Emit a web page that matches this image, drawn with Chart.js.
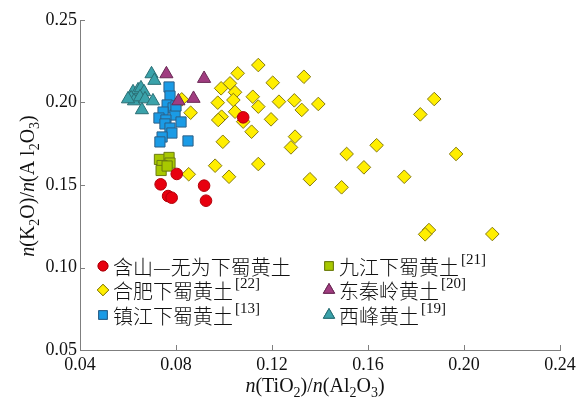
<!DOCTYPE html>
<html>
<head>
<meta charset="utf-8">
<script src="https://cdn.jsdelivr.net/npm/chart.js@4.4.0/dist/chart.umd.min.js"></script>
<style>
  html, body { margin: 0; padding: 0; background: #fff; }
  #wrap { width: 580px; height: 398px; }
</style>
</head>
<body>
<div id="wrap"><canvas id="grafico"></canvas></div>
<script>
// ejes
const xTicks = [0.04, 0.08, 0.12, 0.16, 0.20, 0.24];
const yTicks = [0.05, 0.10, 0.15, 0.20, 0.25];

// 含山—无为下蜀黄土
const hanshanX = [0.1080, 0.0803, 0.0736, 0.0917, 0.0767, 0.0782, 0.0925];
const hanshanY = [0.191, 0.1567, 0.1504, 0.1496, 0.1433, 0.1423, 0.1405];

// 合肥下蜀黄土
const hefeiX = [0.1143, 0.1057, 0.1025, 0.0988, 0.1203, 0.1333, 0.1046, 0.1039, 0.1120, 0.0974,
  0.1143, 0.1229, 0.1293, 0.1324, 0.1393, 0.1046, 0.0990, 0.0976, 0.1080, 0.1196,
  0.1115, 0.0995, 0.1296, 0.1279, 0.0963, 0.1143, 0.1021, 0.1358, 0.0824, 0.0861,
  0.0853, 0.1876, 0.1818, 0.1636, 0.1511, 0.1583, 0.1751, 0.1490, 0.1967, 0.1854,
  0.1838, 0.2118];
const hefeiY = [0.2227, 0.2177, 0.2116, 0.2086, 0.2120, 0.2156, 0.2062, 0.2015, 0.2035, 0.1999,
  0.1975, 0.2005, 0.2013, 0.1955, 0.1991, 0.1944, 0.1914, 0.1894, 0.1884, 0.1898,
  0.1823, 0.1762, 0.1793, 0.1728, 0.1617, 0.1627, 0.1550, 0.1535, 0.2019, 0.1938,
  0.1565, 0.2021, 0.1928, 0.1741, 0.1688, 0.1607, 0.1550, 0.1486, 0.1688, 0.1227,
  0.1201, 0.1203];

// 镇江下蜀黄土
const zhenjiangX = [0.0771, 0.0775, 0.0763, 0.0788, 0.0746, 0.0796, 0.0729, 0.0758, 0.0754, 0.0821,
  0.0775, 0.0783, 0.0742, 0.0733, 0.0850, 0.0800];
const zhenjiangY = [0.2094, 0.2039, 0.1985, 0.1967, 0.1942, 0.1924, 0.1906, 0.1894, 0.1870, 0.1882,
  0.1845, 0.1815, 0.1791, 0.1761, 0.1767, 0.1979];

// 九江下蜀黄土
const jiujiangX = [0.0731, 0.0771, 0.0775, 0.0742, 0.0738, 0.0763];
const jiujiangY = [0.1655, 0.1667, 0.1633, 0.1618, 0.1588, 0.1615];

// 东秦岭黄土
const qinlingX = [0.0760, 0.0917, 0.0810, 0.0873];
const qinlingY = [0.2173, 0.2145, 0.2009, 0.2024];

// 西峰黄土
const xifengX = [0.0698, 0.0710, 0.0621, 0.0642, 0.0654, 0.0667, 0.0613, 0.0625, 0.0650, 0.0671,
  0.0704, 0.0658, 0.0600];
const xifengY = [0.2173, 0.2133, 0.2064, 0.2076, 0.2088, 0.2064, 0.2027, 0.2009, 0.2033, 0.2021,
  0.2009, 0.1955, 0.2021];

function puntos(xs, ys) { return xs.map((v, i) => ({ x: v, y: ys[i] })); }

const SERIF = "'Liberation Serif', 'DejaVu Serif', serif";
const CJK = "'Noto Sans CJK SC', sans-serif";
Chart.defaults.font.family = SERIF;

const series = [
  { label: "含山—无为下蜀黄土", sup: "", data: puntos(hanshanX, hanshanY), style: "circle", r: 5.8, bg: "#e8000f", bd: "#b0000a", order: 0, col: 0, row: 0 },
  { label: "合肥下蜀黄土", sup: "[22]", data: puntos(hefeiX, hefeiY), style: "rectRot", r: 6.8, bg: "#ffee00", bd: "#857a10", order: 4, col: 0, row: 1 },
  { label: "镇江下蜀黄土", sup: "[13]", data: puntos(zhenjiangX, zhenjiangY), style: "rect", r: 7.2, bg: "#1a9be6", bd: "#2d5f86", order: 3, col: 0, row: 2 },
  { label: "九江下蜀黄土", sup: "[21]", data: puntos(jiujiangX, jiujiangY), style: "rect", r: 7.2, bg: "#a8c800", bd: "#6b7a10", order: 1, col: 1, row: 0 },
  { label: "东秦岭黄土", sup: "[20]", data: puntos(qinlingX, qinlingY), style: "triangle", r: 7.6, bg: "#a03c80", bd: "#6a2a55", order: 2, col: 1, row: 1 },
  { label: "西峰黄土", sup: "[19]", data: puntos(xifengX, xifengY), style: "triangle", r: 7.6, bg: "#3aa2aa", bd: "#2a6e74", order: 5, col: 1, row: 2 }
];

// texto con subíndices / cursiva
function textoRico(ctx, partes, x, y, size) {
  const fuente = (p) => {
    if (p[1] === "i") return "italic " + size + "px " + SERIF;
    if (p[1] === "s" || p[1] === "p") return Math.round(size * 0.68) + "px " + SERIF;
    return size + "px " + SERIF;
  };
  let total = 0;
  partes.forEach(p => { ctx.font = fuente(p); total += ctx.measureText(p[0]).width; });
  let cx = x - total / 2;
  ctx.textAlign = "left";
  ctx.textBaseline = "alphabetic";
  partes.forEach(p => {
    ctx.font = fuente(p);
    const dy = p[1] === "s" ? size * 0.25 : 0;
    ctx.fillText(p[0], cx, y + dy);
    cx += ctx.measureText(p[0]).width;
  });
}

const extras = {
  id: "extras",
  beforeDatasetsDraw(chart) {
    const { ctx, chartArea: a, scales: { x, y } } = chart;
    ctx.save();
    ctx.strokeStyle = "#7f7f7f";
    ctx.lineWidth = 1;
    ctx.beginPath();
    xTicks.forEach(v => {
      const px = Math.round(x.getPixelForValue(v)) + 0.5;
      ctx.moveTo(px, a.bottom);
      ctx.lineTo(px, a.bottom - 5);
    });
    yTicks.forEach(v => {
      const py = Math.round(y.getPixelForValue(v)) + 0.5;
      ctx.moveTo(a.left, py);
      ctx.lineTo(a.left + 5, py);
    });
    ctx.stroke();
    ctx.restore();
  },
  afterDraw(chart) {
    const { ctx } = chart;
    ctx.save();
    ctx.fillStyle = "#111";
    // título eje x
    textoRico(ctx, [["n", "i"], ["(TiO", "n"], ["2", "s"], [")/", "n"], ["n", "i"], ["(Al", "n"], ["2", "s"], ["O", "n"], ["3", "s"], [")", "n"]],
      315, 392, 20);
    // título eje y
    ctx.save();
    ctx.translate(34, 186);
    ctx.rotate(-Math.PI / 2);
    textoRico(ctx, [["n", "i"], ["(K", "n"], ["2", "s"], ["O)/", "n"], ["n", "i"], ["(A l", "n"], ["2", "s"], ["O", "n"], ["3", "s"], [")", "n"]],
      0, 0, 20);
    ctx.restore();

    // leyenda
    const colX = [103, 329];
    const rowY = [266, 290, 315];
    series.forEach(s => {
      const mx = colX[s.col], my = rowY[s.row];
      ctx.fillStyle = s.bg;
      ctx.strokeStyle = s.bd;
      ctx.lineWidth = 1;
      Chart.helpers.drawPoint(ctx, { pointStyle: s.style, radius: s.r * 0.85, borderWidth: 1 }, mx, my);
      ctx.fill();
      ctx.stroke();
      ctx.fillStyle = "#111";
      ctx.font = "300 20px " + CJK;
      ctx.textAlign = "left";
      ctx.textBaseline = "middle";
      ctx.fillText(s.label, mx + 10, my + 1);
      if (s.sup) {
        const w = ctx.measureText(s.label).width;
        ctx.font = "15px " + SERIF;
        ctx.fillText(s.sup, mx + 12 + w, my - 6);
      }
    });
    ctx.restore();
  }
};

new Chart(document.getElementById("grafico"), {
  type: "scatter",
  data: {
    datasets: series.map(s => ({
      label: s.label,
      data: s.data,
      pointStyle: s.style,
      pointRadius: s.r,
      pointHoverRadius: s.r,
      backgroundColor: s.bg,
      borderColor: s.bd,
      borderWidth: 1,
      order: s.order
    }))
  },
  options: {
    responsive: true,
    maintainAspectRatio: false,
    animation: false,
    layout: { padding: { left: 0, right: 20, top: 20, bottom: 0 } },
    plugins: { legend: { display: false }, tooltip: { enabled: false } },
    scales: {
      x: {
        type: "linear", min: 0.04, max: 0.24,
        afterBuildTicks: s => { s.ticks = xTicks.map(v => ({ value: v })); },
        afterFit: s => { s.height = 48; },
        ticks: { callback: v => v.toFixed(2), font: { family: SERIF, size: 18 }, color: "#111", padding: 4 },
        grid: { display: false, drawTicks: false },
        border: { color: "#7f7f7f", width: 1 }
      },
      y: {
        min: 0.05, max: 0.25,
        afterBuildTicks: s => { s.ticks = yTicks.map(v => ({ value: v })); },
        afterFit: s => { s.width = 80; },
        ticks: { callback: v => v.toFixed(2), font: { family: SERIF, size: 18 }, color: "#111", padding: 3 },
        grid: { display: false, drawTicks: false },
        border: { color: "#7f7f7f", width: 1 }
      }
    }
  },
  plugins: [extras]
});
</script>
</body>
</html>
